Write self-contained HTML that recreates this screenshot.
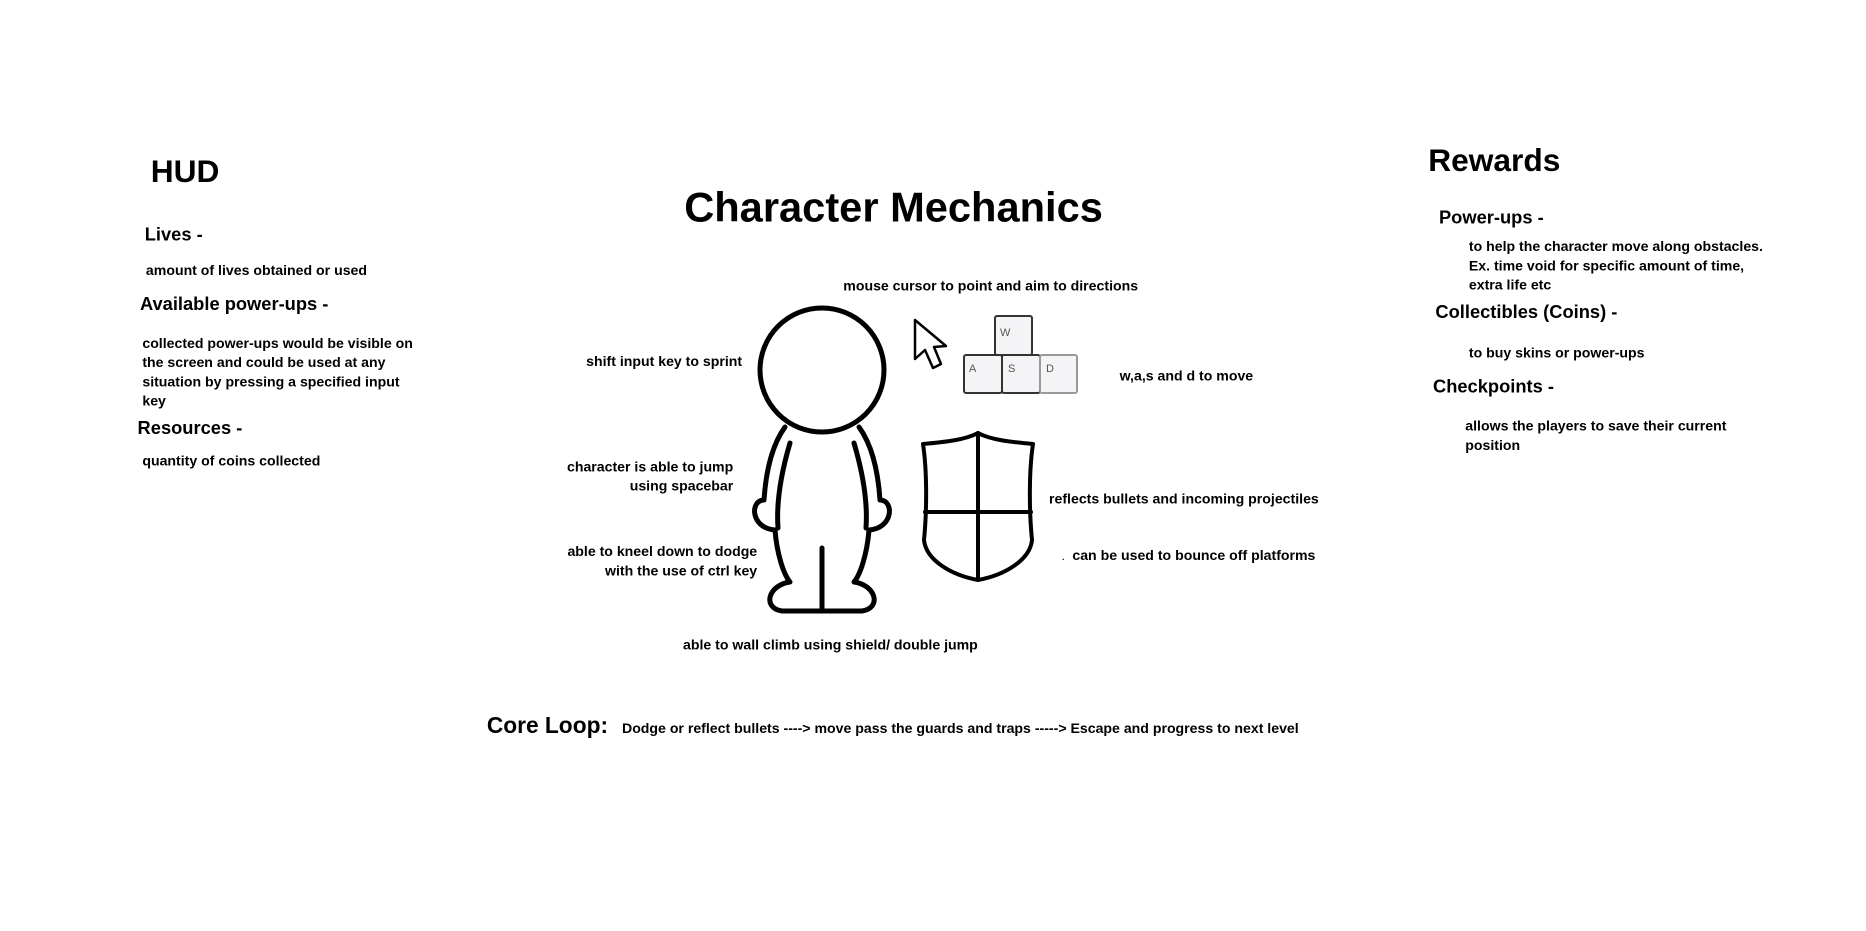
<!DOCTYPE html>
<html><head><meta charset="utf-8"><style>
html,body{margin:0;padding:0;background:#fff;width:1866px;height:930px;overflow:hidden}
#c{position:absolute;left:0;top:0;width:1560px;height:778px;transform:scale(1.19615);transform-origin:0 0;font-family:"Liberation Sans",sans-serif;color:#000}
#c div{position:absolute;white-space:nowrap;font-weight:bold;font-size:11.8px;line-height:16px}
#c .h{font-size:15.3px;font-weight:bold;line-height:18px}
#c .b{font-size:26.5px;line-height:30px}
#c .r{text-align:right}
svg{position:absolute;left:0;top:0}
</style></head><body>
<svg width="1866" height="930" viewBox="0 0 1866 930">
 <g fill="none" stroke="#000" stroke-width="5" stroke-linejoin="round" stroke-linecap="round">
  <circle cx="822" cy="370" r="62"/>
  <path d="M785 427 C772 445,766 470,764 500 C750 500,750 528,775 530 C777 555,784 575,790 582 C768 585,762 608,782 611 L862 611 C882 608,876 585,854 582 C860 575,867 555,869 530 C894 528,894 500,880 500 C878 470,872 445,859 427"/>
  <path d="M822 548 L822 611"/>
  <path d="M790 443 C782 470,776 500,778 528"/>
  <path d="M854 443 C862 470,868 500,866 528"/>
  <path d="M923 444 C945 442,965 440,978 433 C991 440,1011 442,1033 444 C1029 470,1029 510,1032 540 C1030 560,1005 575,978 580 C951 575,926 560,924 540 C927 510,927 470,923 444 Z" stroke-width="4"/>
  <path d="M978 433 L978 580 M925 512 L1031 512" stroke-width="4"/>
  <path d="M915 320 L915 359 L925 350 L933 368 L941 364 L934 347 L946 346 Z" stroke-width="2.5" fill="#fff"/>
 </g>
 <g stroke="#333" stroke-width="2" fill="#f4f4f6">
  <rect x="995" y="316" width="37" height="39" rx="2"/>
  <rect x="964" y="355" width="38" height="38" rx="2"/>
  <rect x="1002" y="355" width="38" height="38" rx="2"/>
  <rect x="1040" y="355" width="37" height="38" rx="2" stroke="#999"/>
 </g>
 <g font-family="Liberation Sans,sans-serif" font-size="11" fill="#555">
  <text x="1000" y="336">W</text><text x="969" y="372">A</text><text x="1008" y="372">S</text><text x="1046" y="372">D</text>
 </g>
</svg>
<div id="c">
 <div class="b" style="left:126px;top:128px">HUD</div>
 <div class="h" style="left:121px;top:188px">Lives -</div>
 <div style="left:122px;top:218px">amount of lives obtained or used</div>
 <div class="h" style="left:117px;top:246px">Available power-ups -</div>
 <div style="left:119px;top:279px">collected power-ups would be visible on<br>the screen and could be used at any<br>situation by pressing a specified input<br>key</div>
 <div class="h" style="left:115px;top:350px">Resources -</div>
 <div style="left:119px;top:377px">quantity of coins collected</div>

 <div style="left:572px;top:154px;font-size:34.8px;line-height:40px">Character Mechanics</div>
 <div style="left:705px;top:231px">mouse cursor to point and aim to directions</div>
 <div style="left:490px;top:294px">shift input key to sprint</div>
 <div class="r" style="right:947px;top:382px">character is able to jump<br>using spacebar</div>
 <div class="r" style="right:927px;top:453px">able to kneel down to dodge<br>with the use of ctrl key</div>
 <div style="left:571px;top:531px">able to wall climb using shield/ double jump</div>
 <div style="left:936px;top:306px">w,a,s and d to move</div>
 <div style="left:877px;top:409px">reflects bullets and incoming projectiles</div>
 <div style="left:888px;top:456px"><span style="font-size:7px">.</span>&nbsp; can be used to bounce off platforms</div>

 <div class="b" style="left:1194px;top:119px">Rewards</div>
 <div class="h" style="left:1203px;top:174px">Power-ups -</div>
 <div style="left:1228px;top:198px">to help the character move along obstacles.<br>Ex. time void for specific amount of time,<br>extra life etc</div>
 <div class="h" style="left:1200px;top:253px">Collectibles (Coins) -</div>
 <div style="left:1228px;top:287px">to buy skins or power-ups</div>
 <div class="h" style="left:1198px;top:315px">Checkpoints -</div>
 <div style="left:1225px;top:348px">allows the players to save their current<br>position</div>

 <div style="left:407px;top:596px;font-size:19px;line-height:24px">Core Loop:</div>
 <div style="left:520px;top:601px">Dodge or reflect bullets ----&gt; move pass the guards and traps -----&gt; Escape and progress to next level</div>
</div>
</body></html>
